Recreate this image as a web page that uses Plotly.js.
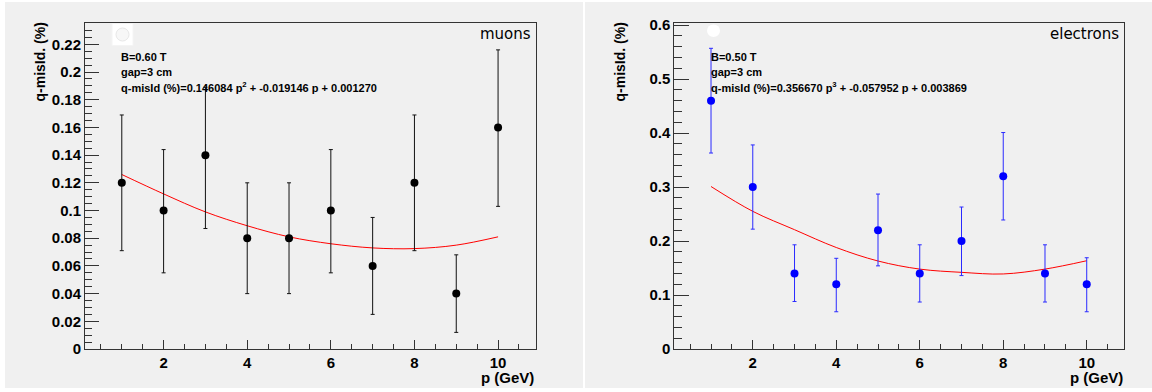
<!DOCTYPE html>
<html>
<head>
<meta charset="utf-8">
<script src="https://cdn.plot.ly/plotly-3.0.1.min.js"></script>
<style>html,body{margin:0;padding:0;background:#fff;}#chart{width:1152px;height:392px;}</style>
</head>
<body>
<div id="chart"></div>
<script>
// ---- data ----
const p = [1, 2, 3, 4, 5, 6, 7, 8, 9, 10];

const muonValue   = [0.12, 0.10, 0.14, 0.08, 0.08, 0.10, 0.06, 0.12, 0.04, 0.16];
const muonErrUp   = [0.049, 0.044, 0.049, 0.040, 0.040, 0.044, 0.035, 0.049, 0.028, 0.056];
const muonErrDown = [0.049, 0.045, 0.053, 0.040, 0.040, 0.045, 0.035, 0.049, 0.028, 0.057];
const muonFit     = [0.126, 0.112, 0.099, 0.089, 0.081, 0.076, 0.073, 0.0725, 0.075, 0.081];

const elecValue   = [0.46, 0.30, 0.14, 0.12, 0.22, 0.14, 0.20, 0.32, 0.14, 0.12];
const elecErrUp   = [0.097, 0.078, 0.053, 0.048, 0.067, 0.053, 0.063, 0.081, 0.053, 0.049];
const elecErrDown = [0.097, 0.078, 0.052, 0.051, 0.066, 0.053, 0.064, 0.081, 0.053, 0.051];
const elecFit     = [0.301, 0.255, 0.221, 0.188, 0.163, 0.148, 0.142, 0.139, 0.148, 0.1635];

const muonLines = ['B=0.60 T', 'gap=3 cm', 'q-misId (%)=0.146084 p<sup>2</sup> + -0.019146 p + 0.001270'];
const elecLines = ['B=0.50 T', 'gap=3 cm', 'q-misId (%)=0.356670 p<sup>3</sup> + -0.057952 p + 0.003869'];

// ---- helpers for paper coordinates (pixels from top-left) ----
const W = 1152, H = 392;
const px = x => x / W;
const py = y => 1 - y / H;

const FONT = 'Liberation Sans, Arial, sans-serif';
const BG = '#f0f0f0';
const AX = '#333333';
const X_RANGE = [0.12, 10.9];

const traces = [
  {x: p, y: muonFit, xaxis: 'x', yaxis: 'y', mode: 'lines', line: {color: '#ff0000', width: 1, shape: 'spline'}, hoverinfo: 'skip'},
  {x: p, y: muonValue, xaxis: 'x', yaxis: 'y', mode: 'markers', marker: {color: '#000', size: 8},
   error_y: {type: 'data', symmetric: false, array: muonErrUp, arrayminus: muonErrDown, color: '#111', thickness: 1, width: 2}},
  {x: p, y: elecFit, xaxis: 'x2', yaxis: 'y2', mode: 'lines', line: {color: '#ff0000', width: 1, shape: 'spline'}, hoverinfo: 'skip'},
  {x: p, y: elecValue, xaxis: 'x2', yaxis: 'y2', mode: 'markers', marker: {color: '#0000ff', size: 8},
   error_y: {type: 'data', symmetric: false, array: elecErrUp, arrayminus: elecErrDown, color: '#2a2aff', thickness: 1, width: 2}}
];

function xAxis(domain, anchor) {
  return {
    domain: domain, anchor: anchor, range: X_RANGE,
    tickmode: 'linear', tick0: 0, dtick: 2,
    ticks: 'inside', ticklen: 9, tickcolor: AX, tickwidth: 1,
    minor: {tickmode: 'linear', tick0: 0, dtick: 0.5, ticks: 'inside', ticklen: 5, tickcolor: AX, tickwidth: 1},
    showline: true, linecolor: AX, linewidth: 1, mirror: true,
    showgrid: false, zeroline: false,
    tickfont: {family: FONT, size: 15, color: '#000', weight: 'bold'}
  };
}
// overlay axis that only draws the unit ticks (same length as labelled ones)
function xUnitAxis(over, anchor) {
  return {
    overlaying: over, anchor: anchor, range: X_RANGE, side: 'bottom',
    tickmode: 'linear', tick0: 0, dtick: 1,
    ticks: 'inside', ticklen: 9, tickcolor: AX, tickwidth: 1,
    showticklabels: false, showline: false, showgrid: false, zeroline: false
  };
}
function yAxis(domain, anchor, range, dtick, minorDtick, tlen, mlen) {
  return {
    domain: domain, anchor: anchor, range: range,
    tickmode: 'linear', tick0: 0, dtick: dtick,
    ticks: 'inside', ticklen: tlen, tickcolor: AX, tickwidth: 1,
    minor: {tickmode: 'linear', tick0: 0, dtick: minorDtick, ticks: 'inside', ticklen: mlen, tickcolor: AX, tickwidth: 1},
    showline: true, linecolor: AX, linewidth: 1, mirror: true,
    showgrid: false, zeroline: false,
    tickfont: {family: FONT, size: 15, color: '#000', weight: 'bold'}
  };
}

const yDom = [py(349), py(22.6)];

const annotations = [];
function addPanelText(x0, lines, label, labelRight, yTitleX, xTitleRight) {
  const ys = [56.7, 71.7, 87.3];
  lines.forEach((t, i) => annotations.push({
    xref: 'paper', yref: 'paper', x: px(x0), y: py(ys[i]), xanchor: 'left', yanchor: 'middle',
    text: t, showarrow: false, font: {family: FONT, size: 11, color: '#000', weight: 'bold'}
  }));
  annotations.push({xref: 'paper', yref: 'paper', x: px(labelRight), y: py(33.5), xanchor: 'right', yanchor: 'middle',
    text: label, showarrow: false, font: {family: 'DejaVu Sans, sans-serif', size: 15, color: '#000'}});
  annotations.push({xref: 'paper', yref: 'paper', x: px(yTitleX), y: py(21), xanchor: 'center', yanchor: 'top',
    text: 'q-misId. (%)', textangle: -90, showarrow: false, font: {family: FONT, size: 14, color: '#000', weight: 'bold'}});
  annotations.push({xref: 'paper', yref: 'paper', x: px(xTitleRight), y: py(377), xanchor: 'right', yanchor: 'middle',
    text: 'p (GeV)', showarrow: false, font: {family: FONT, size: 15, color: '#000', weight: 'bold'}});
}
addPanelText(119, muonLines, 'muons', 533, 39, 536);
addPanelText(709, elecLines, 'electrons', 1121, 619, 1125);

const shapes = [
  {type: 'rect', xref: 'paper', yref: 'paper', x0: px(5), x1: px(583), y0: py(388), y1: py(2), fillcolor: BG, line: {width: 0}, layer: 'below'},
  {type: 'rect', xref: 'paper', yref: 'paper', x0: px(585), x1: px(1152), y0: py(388), y1: py(2), fillcolor: BG, line: {width: 0}, layer: 'below'},
  {type: 'rect', xref: 'paper', yref: 'paper', x0: px(112), x1: px(133), y0: py(45.5), y1: py(23.5), fillcolor: '#ffffff', line: {color: '#f4f4f4', width: 1}},
  {type: 'circle', xref: 'paper', yref: 'paper', x0: px(116), x1: px(129), y0: py(41), y1: py(28), fillcolor: '#f7f7f7', line: {color: '#e8e8e8', width: 1}},
  {type: 'circle', xref: 'paper', yref: 'paper', x0: px(707), x1: px(720), y0: py(37), y1: py(24.5), fillcolor: '#ffffff', line: {width: 0}}
];

const layout = {
  width: W, height: H,
  margin: {l: 0, r: 0, t: 0, b: 0},
  paper_bgcolor: '#ffffff', plot_bgcolor: BG,
  showlegend: false,
  xaxis: xAxis([px(85), px(535.7)], 'y'),
  yaxis: yAxis(yDom, 'x', [0, 0.2357], 0.02, 0.005, 14, 7),
  xaxis2: xAxis([px(674.3), px(1124.3)], 'y2'),
  yaxis2: yAxis(yDom, 'x2', [0, 0.6046], 0.1, 0.02, 15, 8),
  xaxis3: xUnitAxis('x', 'y'),
  xaxis4: xUnitAxis('x2', 'y2'),
  annotations: annotations,
  shapes: shapes
};

Plotly.newPlot('chart', traces, layout, {displayModeBar: false, staticPlot: true});
</script>
</body>
</html>
